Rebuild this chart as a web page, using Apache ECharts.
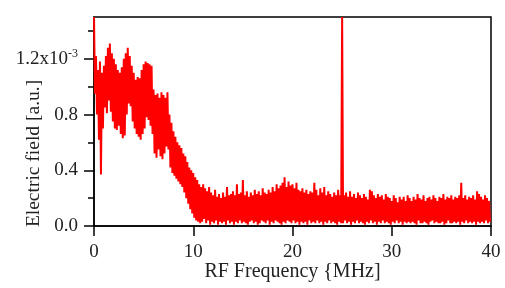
<!DOCTYPE html>
<html>
<head>
<meta charset="utf-8">
<script src="https://cdn.jsdelivr.net/npm/echarts@6/dist/echarts.min.js"></script>
<style>
  html, body { margin: 0; padding: 0; background: #fff; }
  #chart { width: 505px; height: 288px; }
</style>
</head>
<body>
<div id="chart"></div>
<script>
// spectrum, in units of 1e-3
// freqStep = 0.2 MHz; upper points at f, lower points at f + 0.1
const freqStep = 0.2;
const upperVals = [
  1.50, 1.22, 1.12, 1.18, 1.10, 1.15, 1.22, 1.28, 1.31, 1.24,
  1.20, 1.16, 1.12, 1.10, 1.14, 1.20, 1.24, 1.28, 1.22, 1.15,
  1.10, 1.05, 1.07, 1.06, 1.12, 1.16, 1.18, 1.17, 1.16, 1.15,
  0.98, 0.94, 0.95, 0.92, 0.96, 0.94, 0.92, 0.96, 0.80, 0.74,
  0.68, 0.64, 0.60, 0.58, 0.56, 0.52, 0.50, 0.46, 0.42, 0.40,
  0.38, 0.35, 0.33, 0.30, 0.28, 0.30, 0.27, 0.25, 0.28, 0.24,
  0.22, 0.26, 0.21, 0.23, 0.20, 0.24, 0.21, 0.28, 0.22, 0.23,
  0.25, 0.22, 0.30, 0.23, 0.24, 0.33, 0.22, 0.25, 0.21, 0.24,
  0.22, 0.26, 0.23, 0.25, 0.22, 0.27, 0.24, 0.23, 0.26, 0.24,
  0.28, 0.25, 0.30, 0.27, 0.29, 0.31, 0.35, 0.28, 0.32, 0.29,
  0.30, 0.27, 0.31, 0.26, 0.25, 0.27, 0.24, 0.26, 0.23, 0.25,
  0.24, 0.31, 0.26, 0.22, 0.27, 0.24, 0.28, 0.22, 0.25, 0.23,
  0.21, 0.24, 0.22, 0.26, 0.22, 1.50, 0.22, 0.24, 0.21, 0.25,
  0.21, 0.23, 0.20, 0.24, 0.22, 0.20, 0.23, 0.21, 0.19, 0.26,
  0.25, 0.22, 0.20, 0.23, 0.21, 0.22, 0.19, 0.23, 0.21, 0.20,
  0.18, 0.22, 0.20, 0.17, 0.21, 0.19, 0.21, 0.18, 0.22, 0.20,
  0.18, 0.21, 0.19, 0.23, 0.20, 0.19, 0.22, 0.18, 0.20, 0.21,
  0.19, 0.22, 0.20, 0.18, 0.21, 0.20, 0.23, 0.19, 0.21, 0.20,
  0.22, 0.19, 0.21, 0.20, 0.22, 0.31, 0.20, 0.22, 0.19, 0.21,
  0.20, 0.22, 0.19, 0.25, 0.23, 0.21, 0.19, 0.22, 0.20, 0.18
];
const lowerVals = [
  0.95, 0.80, 0.62, 0.37, 0.70, 0.85, 0.81, 0.90, 0.82, 0.75,
  0.70, 0.69, 0.72, 0.66, 0.63, 0.65, 0.80, 0.88, 0.86, 0.75,
  0.70, 0.66, 0.64, 0.62, 0.66, 0.70, 0.78, 0.76, 0.72, 0.66,
  0.52, 0.49, 0.55, 0.50, 0.48, 0.52, 0.57, 0.55, 0.42, 0.38,
  0.36, 0.34, 0.32, 0.30, 0.28, 0.24, 0.20, 0.16, 0.12, 0.09,
  0.06, 0.04, 0.03, 0.02, 0.03, 0.05, 0.02, 0.04, 0.01, 0.03,
  0.02, 0.04, 0.01, 0.03, 0.02, 0.03, 0.01, 0.04, 0.02, 0.03,
  0.01, 0.03, 0.02, 0.04, 0.02, 0.03, 0.02, 0.01, 0.03, 0.04,
  0.02, 0.03, 0.01, 0.02, 0.04, 0.03, 0.02, 0.04, 0.01, 0.03,
  0.02, 0.04, 0.03, 0.02, 0.01, 0.03, 0.02, 0.04, 0.03, 0.02,
  0.04, 0.02, 0.03, 0.01, 0.03, 0.02, 0.03, 0.01, 0.04, 0.02,
  0.03, 0.02, 0.04, 0.02, 0.03, 0.01, 0.03, 0.02, 0.04, 0.02,
  0.03, 0.02, 0.01, 0.03, 0.02, 0.02, 0.04, 0.02, 0.03, 0.01,
  0.03, 0.02, 0.04, 0.02, 0.03, 0.02, 0.01, 0.03, 0.02, 0.04,
  0.02, 0.03, 0.01, 0.03, 0.02, 0.04, 0.02, 0.03, 0.02, 0.01,
  0.03, 0.02, 0.04, 0.02, 0.03, 0.01, 0.03, 0.02, 0.03, 0.02,
  0.03, 0.02, 0.01, 0.04, 0.02, 0.02, 0.03, 0.02, 0.01, 0.03,
  0.04, 0.02, 0.03, 0.02, 0.02, 0.03, 0.01, 0.02, 0.04, 0.02,
  0.02, 0.03, 0.02, 0.03, 0.01, 0.03, 0.02, 0.04, 0.02, 0.03,
  0.02, 0.03, 0.01, 0.03, 0.02, 0.03, 0.02, 0.04, 0.02, 0.03
];
const xTicks = [0, 10, 20, 30, 40];
const yTicks = [0, 0.4, 0.8, 1.2];

// zig-zag between upper and lower readings
const points = [];
for (let i = 0; i < upperVals.length; i++) {
  const f = i * freqStep;
  points.push([+f.toFixed(2), upperVals[i]]);
  points.push([+(f + freqStep / 2).toFixed(2), lowerVals[i]]);
}

const font = "Liberation Serif";
const chart = echarts.init(document.getElementById("chart"), null, { renderer: "canvas" });
chart.setOption({
  animation: false,
  grid: {
    left: 94, right: 14, top: 17, bottom: 62,
    containLabel: false,
    outerBoundsMode: "none",
    show: true, borderColor: "#000", borderWidth: 1.5, backgroundColor: "transparent"
  },
  xAxis: {
    type: "value",
    min: 0, max: 40, interval: 10,
    name: "RF Frequency {MHz]",
    nameLocation: "middle",
    nameGap: 36,
    nameMoveOverlap: false,
    nameTextStyle: { fontFamily: font, fontSize: 20, color: "#222" },
    axisLine: { show: true, lineStyle: { color: "#000", width: 1.5 } },
    axisTick: { show: true, length: 10, customValues: xTicks, lineStyle: { color: "#000", width: 1.5 } },
    axisLabel: { margin: 17, customValues: xTicks, fontFamily: font, fontSize: 19, color: "#222" },
    splitLine: { show: false }
  },
  yAxis: {
    type: "value",
    min: 0, max: 1.5, interval: 0.4,
    name: "Electric field [a.u.]",
    nameLocation: "middle",
    nameGap: 50,
    nameMoveOverlap: false,
    nameTextStyle: { fontFamily: font, fontSize: 19.5, color: "#222", padding: [0, 64, 0, 0] },
    axisLine: { show: true, lineStyle: { color: "#000", width: 1.5 } },
    axisTick: { show: true, length: 10, customValues: yTicks, lineStyle: { color: "#000", width: 1.5 } },
    minorTick: { show: true, splitNumber: 2, length: 6, lineStyle: { color: "#000", width: 1.5 } },
    axisLabel: {
      margin: 16,
      customValues: yTicks,
      fontFamily: font, fontSize: 19, color: "#222",
      formatter: function (v) {
        if (Math.abs(v - 1.2) < 1e-6) return "{a|1.2x10}{s|-3}";
        return "{a|" + v.toFixed(1) + "}";
      },
      rich: {
        a: { fontFamily: font, fontSize: 19, color: "#222", lineHeight: 21 },
        s: { fontFamily: font, fontSize: 12, color: "#222", verticalAlign: "top", lineHeight: 21, padding: [0, 0, 10, 0] }
      }
    },
    splitLine: { show: false },
    minorSplitLine: { show: false }
  },
  series: [
    {
      type: "line",
      data: points,
      showSymbol: false,
      symbol: "none",
      sampling: null,
      lineStyle: { color: "#ff0000", width: 2 },
      z: 1
    }
  ]
});
</script>
</body>
</html>
